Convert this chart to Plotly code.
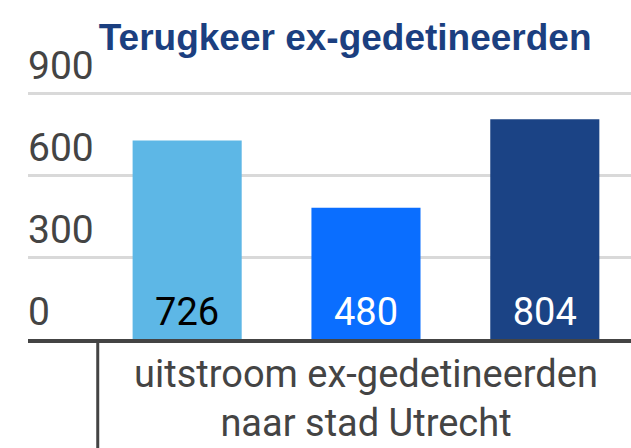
import plotly.graph_objects as go

# data
categories = ["uitstroom ex-gedetineerden<br>naar stad Utrecht"]
series_names = ["reeks 1", "reeks 2", "reeks 3"]
series_values = [726, 480, 804]
bar_colors = ["#5DB7E6", "#0A6EFF", "#1B4385"]
text_colors = ["#000000", "#FFFFFF", "#FFFFFF"]
y_ticks = [0, 300, 600, 900]

fig = go.Figure()

for i, (name, val, col) in enumerate(zip(series_names, series_values, bar_colors)):
    fig.add_trace(go.Bar(
        x=categories,
        y=[val],
        name=name,
        offsetgroup=str(i),
        marker=dict(color=col, line=dict(width=0)),
        hoverinfo="skip",
    ))

# value labels sitting just above the base of each bar
# (an invisible marker gives the text its distance from the axis)
for i, (name, val, tcol) in enumerate(zip(series_names, series_values, text_colors)):
    fig.add_trace(go.Scatter(
        x=categories,
        y=[0],
        mode="markers+text",
        text=[str(val)],
        textposition="top center",
        offsetgroup=str(i),
        marker=dict(size=5, color="rgba(0,0,0,0)"),
        textfont=dict(family="Roboto", size=38, color=tcol),
        hoverinfo="skip",
        showlegend=False,
    ))

# vertical divider below the axis, at the left edge of the category
fig.add_shape(type="line", xref="x", yref="paper", x0=-0.5, x1=-0.5, y0=0, y1=-0.5,
              line=dict(color="#444444", width=3))

fig.update_layout(
    width=631, height=448,
    margin=dict(l=28, r=0, t=40, b=109),
    paper_bgcolor="white", plot_bgcolor="white",
    barmode="group", bargap=0.0, bargroupgap=0.39,
    scattermode="group", scattergap=0.0,
    showlegend=False,
    title=dict(text="<b>Terugkeer ex-gedetineerden</b>", x=0.547, xanchor="center",
               xref="container", y=0.918, yanchor="middle", yref="container",
               font=dict(family="Liberation Sans", size=37, color="#1B3F80")),
    font=dict(family="Roboto", color="#444444"),
)

fig.update_xaxes(
    type="category", range=[-0.63, 0.494], automargin=False,
    showline=True, linecolor="#444444", linewidth=4,
    showgrid=False, ticks="", ticklabelstandoff=-2,
    tickfont=dict(family="Roboto", size=38, color="#444444"),
)

fig.update_yaxes(
    range=[0, 1094], tickvals=y_ticks, automargin=False,
    ticklabelposition="inside top", ticklabelstandoff=-3,
    tickfont=dict(family="Roboto", size=39, color="#444444"),
    showgrid=True, gridcolor="#D9D9D9", gridwidth=3,
    zeroline=False, showline=False, ticks="",
)

# drop the default page margin so the figure sits at the window's corner
fig.write_html("out.html", config={"displayModeBar": False},
               post_script="document.body.style.margin='0';")
